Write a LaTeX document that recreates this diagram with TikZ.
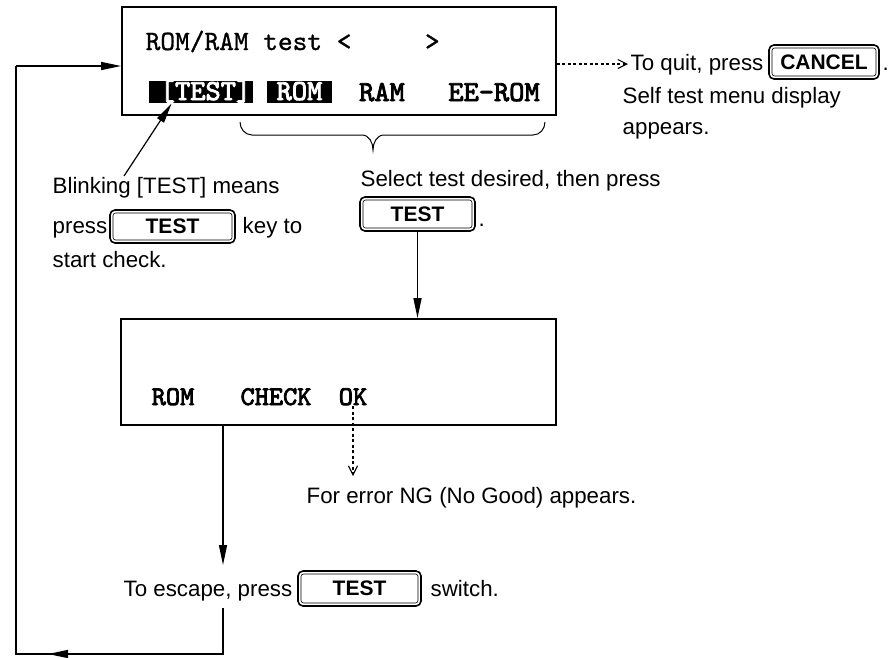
\documentclass[tikz,border=0pt]{standalone}
\usepackage{fontspec}
\setmainfont{Liberation Sans}
\newfontfamily\lcdreg{lmmono10-regular.otf}[FakeBold=1]
\newfontfamily\lcdbold{lmmono10-regular.otf}[FakeBold=3]
\usetikzlibrary{arrows.meta,calc}
\newcommand{\txtf}{\fontsize{22.3}{26}\selectfont}
\newcommand{\keyf}{\fontsize{21}{24}\selectfont\bfseries}
\newcommand{\lcdA}{\lcdreg\fontsize{28}{32}\selectfont}
\newcommand{\lcdB}{\lcdbold\fontsize{29}{32}\selectfont}
\newcommand{\lcdC}{\lcdbold\fontsize{27}{30}\selectfont}
\begin{document}
\begin{tikzpicture}[x=1pt,y=-1pt,line width=1.4pt,
  txt/.style={anchor=base west,inner sep=0pt,font=\txtf},
  lcdbox/.style={draw,line width=1.8pt,inner sep=0pt},
  lcdtxt/.style={anchor=base,inner sep=0pt,font=\lcdB},
  keyout/.style={draw,line width=1.6pt,rounded corners=5pt,inner sep=0pt},
  keyin/.style={draw,line width=0.6pt,rounded corners=2.5pt,inner sep=0pt,font=\keyf},
  hl/.style={fill=black,text=white,inner xsep=0pt,inner ysep=3pt,text height=16pt,text depth=0pt,font=\lcdB,minimum height=22pt},
  arr/.style={-{Triangle[length=20pt,width=8pt]}},
  dotarr/.style={line width=1.1pt,dash pattern=on 3pt off 2.5pt,-{Straight Barb[length=9pt,width=9pt,line width=1.1pt]}}]
\useasboundingbox (0,0) rectangle (889,657);
% top display
\node[lcdbox,minimum width=434pt,minimum height=108pt] (box1) at (339,61) {};
\node[anchor=base west,inner sep=0pt,font=\lcdA] (t1) at (145,50) {ROM/RAM~test~<~~~~~>};
\node[hl,minimum width=104pt] (hltest) at (201,92) {\hspace*{9pt}[TEST]};
\node[hl,minimum width=65pt] (hlrom) at (299.5,92) {ROM};
\node[lcdtxt] (ram) at (382,101) {RAM};
\node[lcdtxt] (eerom) at (494,101) {EE-ROM};
% brace
\draw[line width=1pt] (240,122) to[out=-90,in=180] (252,135) -- (362,135)
  to[out=0,in=90] (373,150) to[out=90,in=180] (384,135) -- (533,135)
  to[out=0,in=-90] (545,122);
% left note
\node[txt] (bl1) at (52,193) {Blinking [TEST] means};
\node[txt] (bl2) at (52,233) {press};
\node[keyout,minimum width=125pt,minimum height=33pt] (k1) at (172.5,226.5) {};
\node[keyin,minimum width=119pt,minimum height=27pt] (k1i) at (k1) {TEST};
\node[txt] (bl3) at (242,233) {key to};
\node[txt] (bl4) at (52,267) {start check.};
\coordinate (ba) at (124,176);
\draw[arr,line width=1.2pt] (ba) -- ($(hltest.south west)!0.22!(hltest.south east)$);
% select note
\node[txt] (sel) at (360,186) {Select test desired, then press};
\node[keyout,minimum width=115pt,minimum height=34pt] (k2) at (417.5,214) {};
\node[keyin,minimum width=109pt,minimum height=28pt] (k2i) at (k2) {TEST};
\node[txt] (dot2) at (478,226) {.};
% right note
\coordinate (q) at (628,64);
\draw[dotarr] (q -| box1.east) -- (q);
\node[txt] (quit) at (630,70) {To quit, press};
\node[keyout,minimum width=110pt,minimum height=34pt] (k3) at (824,62) {};
\node[keyin,minimum width=104pt,minimum height=28pt] (k3i) at (k3) {CANCEL};
\node[txt] (dot3) at (882,70) {.};
\node[txt] (self1) at (622,103) {Self test menu display};
\node[txt] (self2) at (622,134) {appears.};
% second display
\node[lcdbox,minimum width=435pt,minimum height=106pt] (box2) at (338.5,372) {};
\draw[arr] (k2.south) -- (k2.south |- box2.north);
\node[lcdtxt,font=\lcdC] (rom2) at (173,405) {ROM};
\node[lcdtxt,font=\lcdC] (chk) at (276,405) {CHECK};
\node[lcdtxt,font=\lcdC] (ok) at (353,405) {OK};
\coordinate (ok0) at (353,476);
\draw[dotarr] (ok.south) -- (ok0);
\node[txt] (err) at (306,503) {For error NG (No Good) appears.};
% escape
\coordinate (e0) at (223,565);
\draw[arr] (e0 |- box2.south) -- (e0);
\node[txt] (esc) at (123,596) {To escape, press};
\node[keyout,minimum width=123pt,minimum height=35pt] (k4) at (359.5,588.5) {};
\node[keyin,minimum width=117pt,minimum height=29pt] (k4i) at (k4) {TEST};
\node[txt] (sw) at (430,596) {switch.};
% loop back
\coordinate (e1) at (223,608);
\coordinate (b1) at (223,654);
\coordinate (bl) at (16,654);
\coordinate (tl) at (16,66);
\coordinate (bm) at (90,654);
\coordinate (bt) at (48,654);
\draw (e1) -- (b1) -- (bl) -- (tl);
\draw[arr] (tl) -- (tl -| box1.west);
\draw[arr] (bm) -- (bt);
\end{tikzpicture}
\end{document}
